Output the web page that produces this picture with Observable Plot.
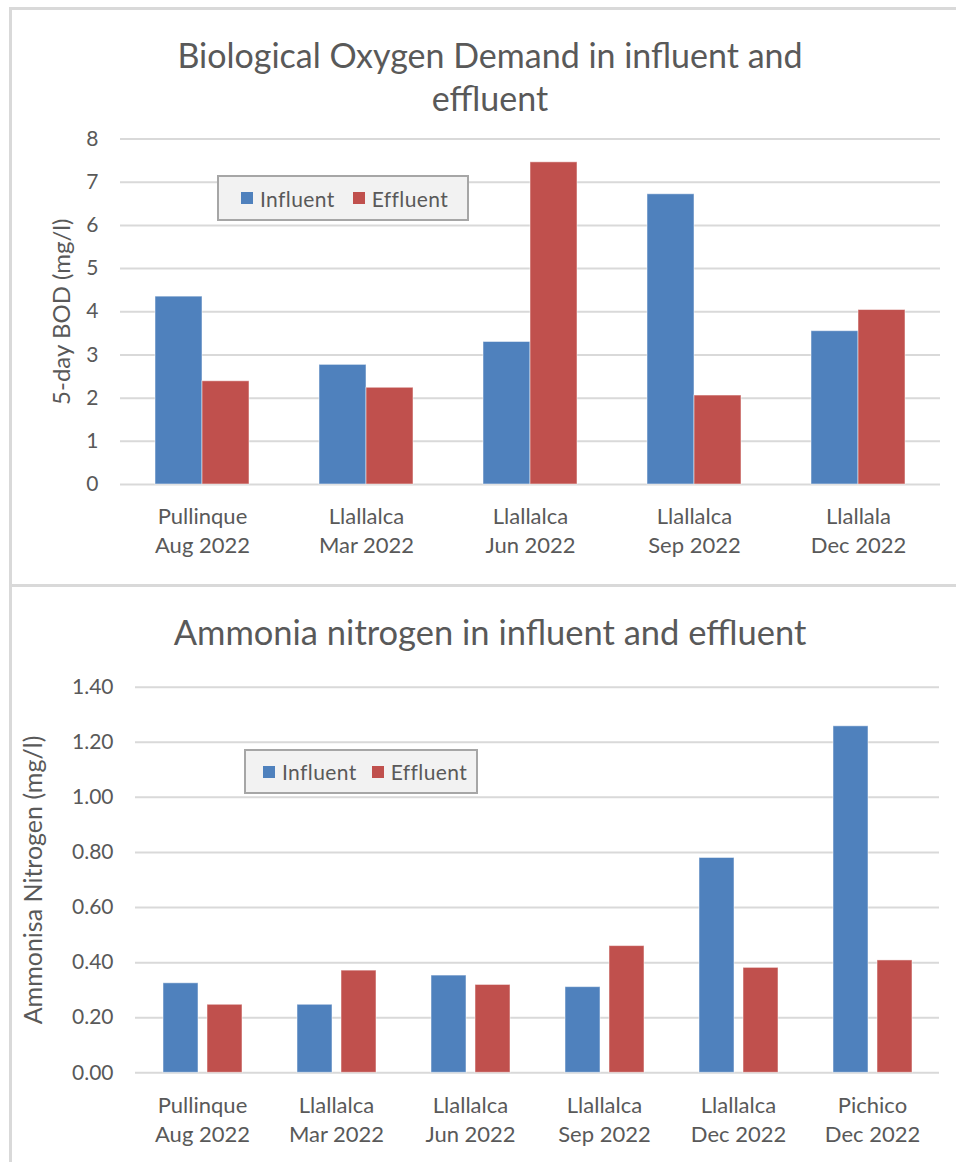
<!DOCTYPE html>
<html>
<head>
<meta charset="utf-8">
<script src="https://cdn.jsdelivr.net/npm/d3@7"></script>
<script src="https://cdn.jsdelivr.net/npm/@observablehq/plot@0.6"></script>
<style>
  html, body { margin: 0; padding: 0; background: #fff; }
  body { width: 956px; height: 1162px; position: relative; overflow: hidden; font-family: Lato, sans-serif; color: #595959; }
  .box { position: absolute; border: 3px solid #d9d9d9; background: #fff; box-sizing: border-box; }
  .title { position: absolute; left: 0; width: 980px; text-align: center; font-size: 34px; line-height: 43px; color: #595959; }
  .legend { position: absolute; box-sizing: border-box; background: #f2f2f2; border: 2px solid #a6a6a6; display: flex; align-items: center; font-size: 21px; color: #595959; letter-spacing: 0.4px; }
  .sw { display: inline-block; width: 12px; height: 12px; margin-right: 7px; }
  .chart { position: absolute; left: 0; }
</style>
</head>
<body>
<div class="box" style="left:9px;top:7px;width:1000px;height:580px;"></div>
<div class="box" style="left:9px;top:584px;width:1000px;height:600px;"></div>
<div class="title" id="t1" style="top:33px;"></div>
<div class="title" id="t2" style="top:610px;font-size:34.5px;"></div>
<div class="chart" id="c1" style="top:110px;"></div>
<div class="chart" id="c2" style="top:665px;"></div>
<div class="legend" id="l1" style="left:217px;top:175px;width:252px;height:46px;padding-left:22px;"></div>
<div class="legend" id="l2" style="left:244px;top:749px;width:234px;height:45px;padding-left:17px;"></div>
<script>
// ---- data ----
const series = ["Influent", "Effluent"];
const seriesColors = ["#4F81BD", "#C0504D"];

const bodTitle = "Biological Oxygen Demand in influent and<br>effluent";
const bodCategories = ["Pullinque\nAug 2022", "Llallalca\nMar 2022", "Llallalca\nJun 2022", "Llallalca\nSep 2022", "Llallala\nDec 2022"];
const bodInfluent = [4.35, 2.77, 3.30, 6.72, 3.55];
const bodEffluent = [2.39, 2.24, 7.46, 2.06, 4.04];
const bodTicks = [0, 1, 2, 3, 4, 5, 6, 7, 8];
const bodLabel = "5-day BOD (mg/l)";

const nh3Title = "Ammonia nitrogen in influent and effluent";
const nh3Categories = ["Pullinque\nAug 2022", "Llallalca\nMar 2022", "Llallalca\nJun 2022", "Llallalca\nSep 2022", "Llallalca\nDec 2022", "Pichico\nDec 2022"];
const nh3Influent = [0.325, 0.247, 0.353, 0.311, 0.78, 1.258];
const nh3Effluent = [0.247, 0.371, 0.319, 0.46, 0.381, 0.408];
const nh3Ticks = [0, 0.2, 0.4, 0.6, 0.8, 1.0, 1.2, 1.4];
const nh3Label = "Ammonisa Nitrogen (mg/l)";

function makeChart(o) {
  const data = o.cats.flatMap((c, i) => [
    {cat: c, series: series[0], value: o.inf[i]},
    {cat: c, series: series[1], value: o.eff[i]}
  ]);
  return Plot.plot({
    width: 956,
    height: o.height,
    marginLeft: o.ml,
    marginRight: 15,
    marginTop: o.mt,
    marginBottom: o.mb,
    style: {fontFamily: "Lato, sans-serif", fontSize: "21px", color: "#595959", background: "transparent", overflow: "visible"},
    fx: {domain: o.cats, padding: 0, axis: null},
    x: {domain: series, paddingInner: o.pi, paddingOuter: o.po, axis: null},
    y: {domain: [o.ticks[0], o.ticks[o.ticks.length - 1]], axis: null},
    color: {domain: series, range: seriesColors},
    marks: [
      Plot.gridY(o.ticks, {stroke: "#d9d9d9", strokeOpacity: 1, strokeWidth: 2}),
      Plot.barY(data, {fx: "cat", x: "series", y: "value", fill: "series", stroke: "#ffffff", strokeOpacity: 0.5, strokeWidth: 1}),
      Plot.axisY(o.ticks, {tickSize: 0, tickPadding: 22, tickFormat: o.fmt, label: null, fill: "#595959"}),
      Plot.axisY([], {tickSize: 0, label: o.label, labelAnchor: "center", labelArrow: "none", labelOffset: o.lo, fontSize: o.lfs, fill: "#595959"}),
      Plot.axisFx({anchor: "bottom", tickSize: 0, tickPadding: o.tp, lineHeight: 1.32, fontSize: 22, label: null, fill: "#595959"})
    ]
  });
}

function makeLegend(el, gapSecond) {
  series.forEach((s, i) => {
    const item = document.createElement("span");
    item.style.display = "inline-flex";
    item.style.alignItems = "center";
    if (i > 0) item.style.marginLeft = gapSecond + "px";
    const sw = document.createElement("span");
    sw.className = "sw";
    sw.style.background = seriesColors[i];
    item.appendChild(sw);
    item.appendChild(document.createTextNode(s));
    el.appendChild(item);
  });
}

document.getElementById("t1").innerHTML = bodTitle;
document.getElementById("t2").textContent = nh3Title;

document.getElementById("c1").appendChild(makeChart({
  cats: bodCategories, inf: bodInfluent, eff: bodEffluent, ticks: bodTicks,
  fmt: d3.format("d"), label: bodLabel, lo: 68, lfs: 24, tp: 19,
  height: 470, ml: 119, mt: 28.5, mb: 96, pi: 0, po: 0.73
}));
document.getElementById("c2").appendChild(makeChart({
  cats: nh3Categories, inf: nh3Influent, eff: nh3Effluent, ticks: nh3Ticks,
  fmt: d3.format(".2f"), label: nh3Label, lo: 111, lfs: 25, tp: 20,
  height: 495, ml: 132, mt: 21.7, mb: 87.7, pi: 0.21, po: 0.603
}));

makeLegend(document.getElementById("l1"), 18);
makeLegend(document.getElementById("l2"), 15);
</script>
</body>
</html>
